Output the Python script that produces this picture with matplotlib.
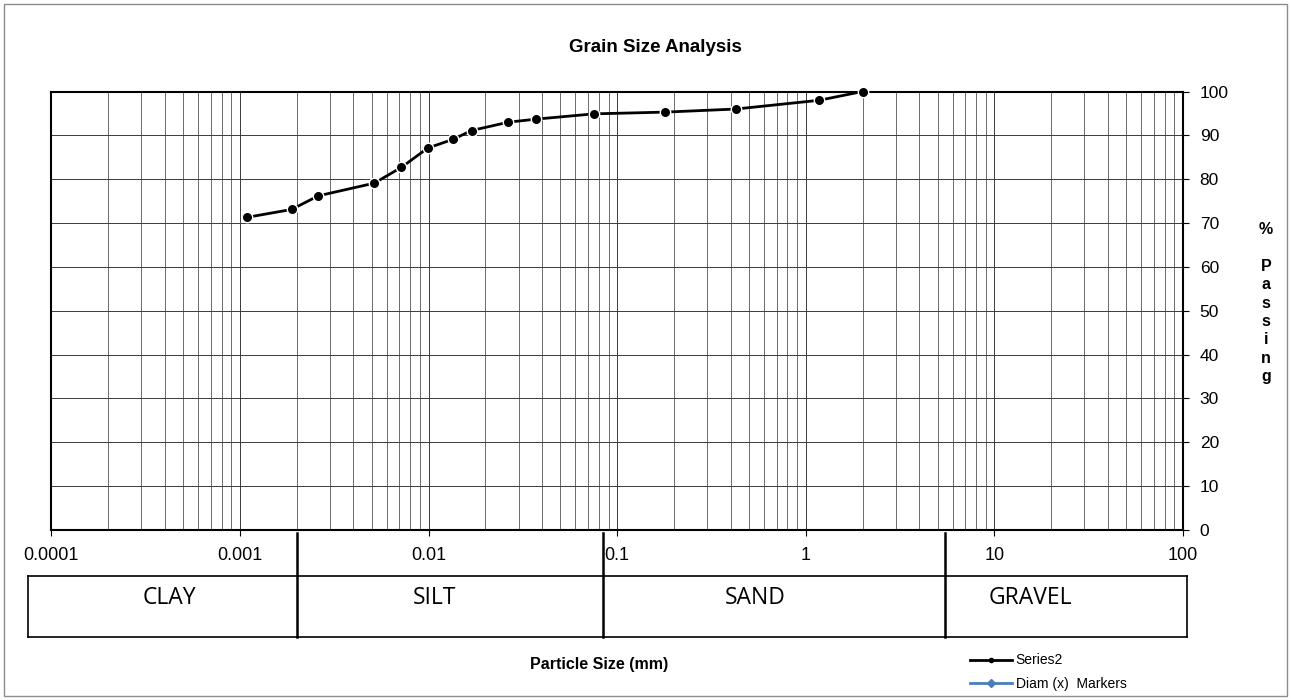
import numpy as np
import matplotlib
matplotlib.use("Agg")
import matplotlib.pyplot as plt
from matplotlib.lines import Line2D
from matplotlib.patches import Rectangle
from matplotlib.transforms import blended_transform_factory
from matplotlib.ticker import FixedLocator, NullFormatter, LogLocator

# ---- data ----
particle_size = [0.00109, 0.00188, 0.0026, 0.00516, 0.00718, 0.0099, 0.0135, 0.0169,
                 0.0265, 0.0372, 0.0752, 0.18, 0.425, 1.18, 2.0]
percent_passing = [71.3, 73.1, 76.2, 79.1, 82.7, 87.1, 89.1, 91.1,
                   93.0, 93.7, 94.9, 95.3, 96.0, 98.0, 100.0]
x_ticks = [0.0001, 0.001, 0.01, 0.1, 1, 10, 100]
x_tick_labels = ["0.0001", "0.001", "0.01", "0.1", "1", "10", "100"]
y_ticks = list(range(0, 101, 10))
soil_classes = ["CLAY", "SILT", "SAND", "GRAVEL"]
class_bounds = [0.002, 0.084, 5.5]          # divider positions in the band
class_label_x = [0.000425, 0.0107, 0.54, 15.5]

W, H = 1291, 700
fig = plt.figure(figsize=(W / 100, H / 100), dpi=100)
plt.rcParams['font.family'] = ['Liberation Sans', 'DejaVu Sans']

# outer chart border
fig.patches.append(Rectangle((4 / W, 4 / H), (W - 8) / W, (H - 8) / H, transform=fig.transFigure,
                             fill=False, edgecolor='#8c8c8c', lw=1.0))

# main axes
L, R, T, B = 51.3, 1183, 91.5, 530
ax = fig.add_axes([L / W, 1 - B / H, (R - L) / W, (B - T) / H])
ax.set_xscale('log')
ax.set_xlim(1e-4, 100)
ax.set_ylim(0, 100)

ax.xaxis.set_major_locator(FixedLocator(x_ticks))
ax.set_xticklabels(x_tick_labels)
ax.xaxis.set_minor_locator(LogLocator(base=10, subs=np.arange(2, 10)))
ax.xaxis.set_minor_formatter(NullFormatter())
ax.set_yticks(y_ticks)
ax.yaxis.tick_right()
ax.tick_params(axis='x', which='major', direction='out', length=4, width=0.8, labelsize=13, pad=8)
ax.tick_params(axis='x', which='minor', length=0)
ax.tick_params(axis='y', which='major', direction='out', length=4, width=0.8, labelsize=12.5, pad=8)

ax.grid(True, which='major', axis='both', color='#3a3a3a', lw=0.7)
ax.grid(True, which='minor', axis='x', color='#555555', lw=0.6)
for s in ax.spines.values():
    s.set_linewidth(1.5)
    s.set_color('black')

ax.plot(particle_size, percent_passing, color='black', lw=2.0, marker='o', markersize=7.5,
        markerfacecolor='black', markeredgecolor='white', markeredgewidth=1.0, zorder=5,
        clip_on=False)

fig.text(655 / W, 1 - 47 / H, "Grain Size Analysis", ha='center', va='center',
         fontsize=13.5, fontweight='bold')
fig.text(599 / W, 1 - 665 / H, "Particle Size (mm)", ha='center', va='center',
         fontsize=11.5, fontweight='bold')
fig.text(1266 / W, 1 - 303 / H, "%\n\nP\na\ns\ns\ni\nn\ng", ha='center', va='center',
         fontsize=11.5, fontweight='bold', linespacing=1.28)

# classification band
tl, tr, tt, tb = 28.3, 1186.7, 576, 637
axt = fig.add_axes([tl / W, 1 - tb / H, (tr - tl) / W, (tb - tt) / H])
axt.set_xscale('log')
xmin = 10 ** (-4 - (L - tl) / 188.6)
xmax = 10 ** (2 + (tr - R) / 188.6)
axt.set_xlim(xmin, xmax)
axt.set_ylim(0, 1)
axt.set_xticks([])
axt.set_yticks([])
axt.minorticks_off()
for s in axt.spines.values():
    s.set_linewidth(1.2)
    s.set_color('black')
trans = blended_transform_factory(axt.transData, fig.transFigure)
for b in class_bounds:
    axt.plot([b, b], [1 - tb / H, 1 - 533 / H], color='black', lw=1.8, transform=trans,
             clip_on=False)
for name, xpos in zip(soil_classes, class_label_x):
    axt.text(xpos, 1 - 598 / H, name, transform=trans, ha='center', va='center',
             fontsize=16.5, family=['Open Sans', 'DejaVu Sans'])

# legend
handles = [Line2D([], [], color='black', lw=2, marker='o', markersize=3),
           Line2D([], [], color='#4a7ebb', lw=2, marker='D', markersize=4.5)]
fig.legend(handles, ["Series2", "Diam (x)  Markers"], loc='center left',
           bbox_to_anchor=(963 / W, 1 - 672 / H), frameon=False, fontsize=10,
           handlelength=3.0, handletextpad=0.3, labelspacing=0.65, borderpad=0)

fig.savefig("out.png", dpi=100)
